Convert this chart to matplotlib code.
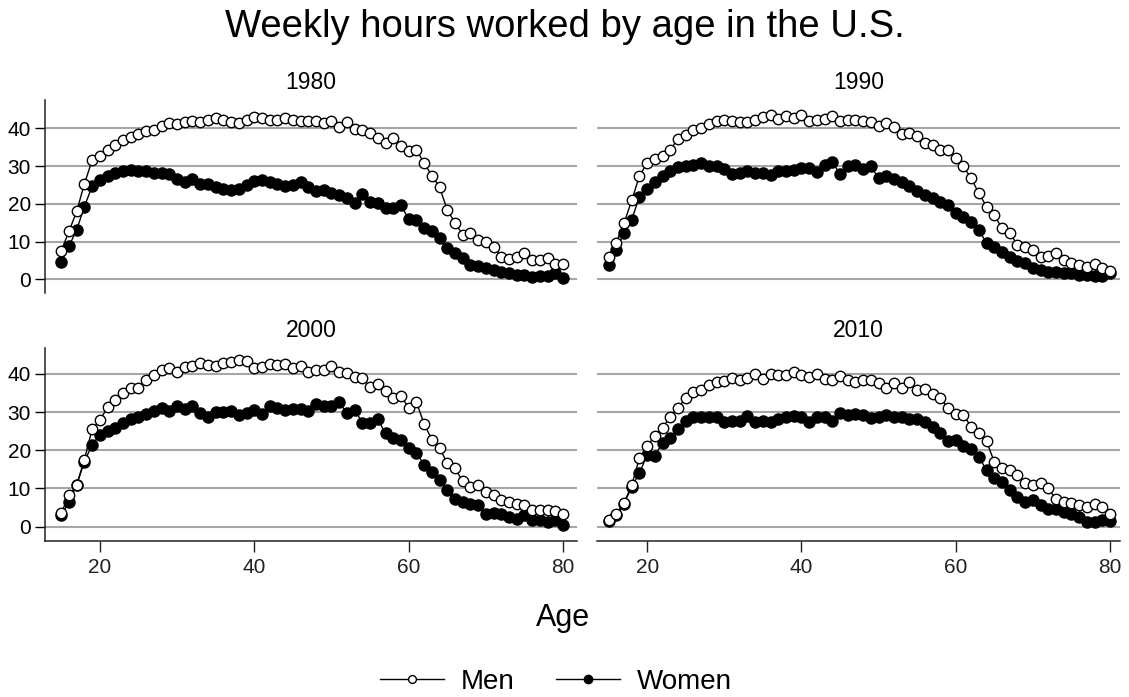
import matplotlib
matplotlib.use("Agg")
import matplotlib.pyplot as plt

plt.rcParams['font.family'] = ['Liberation Sans', 'DejaVu Sans']

ages = list(range(15, 81))

men_1980 = [7.6, 12.7, 18.0, 25.3, 31.5, 32.7, 34.3, 35.7, 36.8, 37.8,
            38.6, 39.2, 39.6, 40.5, 41.4, 41.2, 41.6, 42.0, 41.6, 42.3,
            42.7, 42.3, 41.8, 41.5, 42.3, 43.0, 42.7, 42.1, 42.3, 42.7,
            42.3, 41.9, 41.9, 42.0, 41.5, 41.9, 40.4, 41.6, 39.8, 39.6,
            38.8, 37.4, 36.1, 37.4, 35.2, 33.9, 34.3, 30.8, 27.5, 24.4,
            18.4, 15.0, 11.8, 12.2, 10.4, 10.0, 8.7, 6.0, 5.3, 6.0,
            6.9, 5.1, 5.1, 5.6, 4.2, 4.0]
women_1980 = [4.7, 8.8, 13.1, 19.3, 24.6, 26.4, 27.3, 28.3, 28.8, 29.0,
              28.6, 28.8, 28.1, 28.3, 28.0, 26.5, 25.9, 26.5, 25.3, 25.3,
              24.5, 24.0, 23.8, 24.0, 25.0, 26.0, 26.2, 25.8, 25.2, 24.8,
              25.0, 25.8, 24.4, 23.5, 23.7, 22.8, 22.4, 21.5, 20.2, 22.5,
              20.6, 20.2, 18.8, 18.8, 19.7, 15.9, 15.8, 13.5, 12.7, 10.9,
              8.2, 6.9, 5.6, 3.8, 3.5, 2.9, 2.5, 2.0, 1.6, 1.2,
              1.2, 0.6, 0.9, 1.0, 1.6, 0.4]

men_1990 = [6.0, 9.7, 14.9, 20.9, 27.4, 30.8, 31.9, 32.6, 34.3, 37.3,
            38.3, 39.6, 40.1, 41.2, 41.9, 42.1, 41.9, 41.6, 41.6, 42.3,
            43.0, 43.4, 42.5, 43.2, 42.7, 43.6, 41.9, 42.3, 42.5, 43.2,
            41.9, 42.1, 42.1, 41.9, 41.6, 40.5, 41.4, 40.4, 38.6, 38.8,
            37.9, 36.1, 35.7, 34.3, 34.2, 32.1, 29.9, 26.8, 22.8, 19.3,
            17.1, 13.5, 12.4, 9.1, 8.7, 7.8, 6.0, 6.2, 6.9, 5.1,
            4.4, 3.8, 3.4, 4.1, 2.9, 2.3]
women_1990 = [3.8, 7.8, 12.2, 15.8, 21.9, 23.9, 25.9, 27.3, 28.6, 29.7,
              29.9, 30.4, 30.8, 29.9, 30.1, 29.2, 28.0, 28.1, 28.6, 28.3,
              28.1, 27.7, 28.6, 28.8, 29.0, 29.5, 29.5, 28.5, 30.4, 31.0,
              28.0, 29.9, 30.4, 29.2, 30.0, 26.8, 27.3, 26.5, 25.7, 24.8,
              23.3, 22.4, 21.5, 20.4, 19.7, 17.5, 16.4, 15.2, 13.1, 9.6,
              8.7, 7.3, 6.0, 5.0, 4.4, 2.9, 2.5, 2.0, 2.0, 1.6,
              1.6, 1.2, 1.2, 0.8, 0.9, 1.8]

men_2000 = [3.5, 8.2, 10.9, 17.5, 25.5, 27.8, 31.3, 33.1, 34.9, 36.2,
            36.4, 38.4, 39.7, 41.1, 41.5, 40.6, 41.7, 42.0, 42.8, 42.4,
            42.0, 42.8, 43.2, 43.7, 43.4, 41.5, 41.7, 42.6, 42.4, 42.6,
            41.5, 42.0, 40.6, 41.1, 41.1, 42.0, 40.6, 40.2, 39.3, 39.0,
            36.5, 37.4, 35.6, 33.8, 34.1, 31.2, 32.6, 26.9, 22.8, 20.6,
            16.6, 15.3, 11.8, 10.4, 10.8, 9.1, 8.2, 6.9, 6.5, 6.0,
            5.6, 4.2, 4.2, 4.2, 4.1, 3.2]
women_2000 = [2.9, 6.4, 10.9, 17.0, 21.4, 24.1, 25.0, 25.9, 27.2, 28.1,
              28.8, 29.4, 30.4, 31.2, 30.4, 31.7, 30.8, 31.7, 29.7, 28.8,
              29.9, 30.1, 30.4, 29.2, 29.7, 30.6, 29.4, 31.7, 31.0, 30.6,
              30.8, 30.8, 30.4, 32.1, 31.7, 31.7, 32.6, 29.7, 30.6, 27.2,
              27.2, 28.1, 24.4, 23.3, 22.8, 20.6, 19.3, 16.2, 14.4, 12.2,
              9.6, 7.3, 6.4, 6.0, 5.6, 3.4, 3.5, 3.4, 2.5, 2.0,
              2.9, 1.6, 1.6, 1.2, 1.6, 0.5]

men_2010 = [1.8, 3.2, 6.2, 10.8, 17.9, 21.1, 23.7, 25.9, 28.8, 31.2,
            33.6, 35.2, 35.7, 37.0, 37.9, 38.1, 39.0, 38.4, 39.0, 40.1,
            38.6, 40.1, 39.8, 39.8, 40.5, 39.6, 39.2, 40.1, 38.6, 38.4,
            39.5, 38.4, 38.0, 38.4, 38.4, 37.6, 36.2, 37.6, 36.2, 37.8,
            35.8, 36.0, 34.8, 33.6, 31.2, 29.5, 29.2, 26.2, 24.6, 22.3,
            17.0, 15.3, 14.8, 13.5, 11.3, 10.9, 11.3, 10.0, 7.1, 6.5,
            6.2, 5.6, 5.1, 5.8, 5.1, 3.2]
women_2010 = [1.4, 2.9, 6.0, 10.4, 14.0, 18.8, 18.6, 22.0, 23.3, 25.5,
              27.7, 28.6, 28.6, 28.8, 28.6, 27.3, 27.7, 27.7, 29.0, 27.3,
              27.7, 27.5, 28.3, 28.6, 29.0, 28.6, 27.5, 28.6, 28.8, 27.7,
              29.7, 29.2, 29.4, 29.2, 28.5, 28.6, 29.2, 28.8, 28.8, 28.3,
              28.1, 27.3, 26.2, 24.6, 22.4, 22.7, 21.2, 20.2, 18.2, 14.8,
              12.8, 11.7, 9.6, 7.8, 6.4, 6.9, 5.6, 4.7, 4.7, 3.8,
              3.4, 2.5, 1.2, 1.2, 1.6, 1.4]

years = ['1980', '1990', '2000', '2010']
men = [men_1980, men_1990, men_2000, men_2010]
women = [women_1980, women_1990, women_2000, women_2010]

W, H = 1129, 697
fig = plt.figure(figsize=(W / 100, H / 100), dpi=100)

# panel boxes in pixels: left, top, right, bottom
boxes = [(45, 100, 577, 293), (597, 100, 1120, 293),
         (45, 348, 577, 541), (597, 348, 1120, 541)]
xlims = [(12.9, 81.8), (13.5, 81.3), (12.9, 81.8), (13.5, 81.3)]
ylims = [(-3.6, 47.5), (-3.6, 47.5), (-3.8, 46.8), (-3.8, 46.8)]

for i, (l, t, r, b) in enumerate(boxes):
    ax = fig.add_axes([l / W, 1 - b / H, (r - l) / W, (b - t) / H])
    ax.set_xlim(*xlims[i])
    ax.set_ylim(*ylims[i])
    ax.set_yticks([0, 10, 20, 30, 40])
    ax.set_xticks([20, 40, 60, 80])
    ax.grid(axis='y', color='#a6a6a6', linewidth=1.5)
    ax.set_axisbelow(True)
    for s in ['top', 'right']:
        ax.spines[s].set_visible(False)
    left_col = i % 2 == 0
    bottom_row = i >= 2
    ax.spines['left'].set_visible(left_col)
    ax.spines['bottom'].set_visible(bottom_row)
    ax.tick_params(axis='y', left=left_col, labelleft=left_col, length=7,
                   width=1, labelsize=15, pad=3)
    ax.tick_params(axis='x', bottom=bottom_row, labelbottom=bottom_row,
                   length=8, width=1, labelsize=15, pad=4, colors='#222222')
    for s in ['left', 'bottom']:
        ax.spines[s].set_linewidth(1.1)
        ax.spines[s].set_color('#222222')

    ax.plot(ages, women[i], color='black', linewidth=1, marker='o',
            markersize=8, markerfacecolor='black', markeredgecolor='black',
            label='Women')
    ax.plot(ages, men[i], color='black', linewidth=1, marker='o',
            markersize=7.5, markerfacecolor='white', markeredgecolor='black',
            markeredgewidth=1, label='Men')
    ax.set_title(years[i], fontsize=16.5, pad=8)

fig.text(0.5, 1 - 27 / H, 'Weekly hours worked by age in the U.S.',
         ha='center', va='center', fontsize=27.5)
fig.text(563 / W, 1 - 618 / H, 'Age', ha='center', va='center', fontsize=22)

handles, labels = ax.get_legend_handles_labels()
fig.legend(handles[::-1], labels[::-1], loc='center',
           bbox_to_anchor=(556 / W, 1 - 682 / H), ncol=2, frameon=False,
           fontsize=20, handlelength=2.3, markerscale=0.75,
           columnspacing=1.5, handletextpad=0.6)

fig.savefig('out.png', dpi=100)
